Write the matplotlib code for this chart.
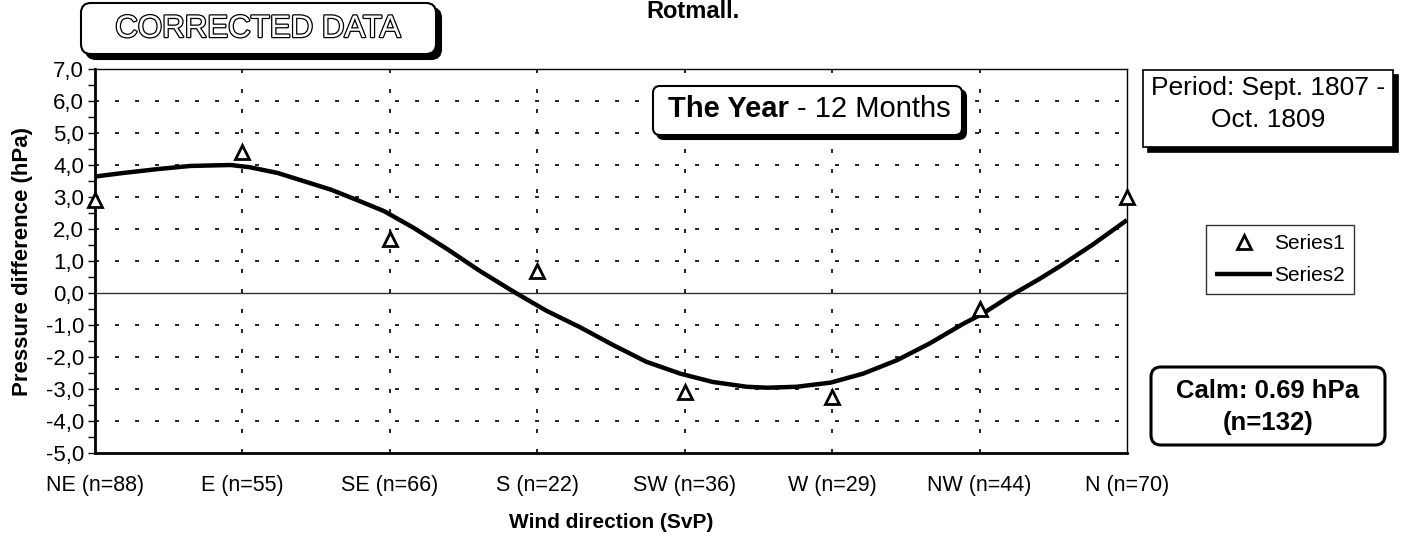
import numpy as np
import matplotlib
matplotlib.use("Agg")
import matplotlib.pyplot as plt
from matplotlib.patches import FancyBboxPatch
import matplotlib.patheffects as pe

plt.rcParams['font.family'] = ['Liberation Sans', 'DejaVu Sans']

# data
directions = ['NE (n=88)', 'E (n=55)', 'SE (n=66)', 'S (n=22)',
              'SW (n=36)', 'W (n=29)', 'NW (n=44)', 'N (n=70)']
series1 = [2.9, 4.4, 1.7, 0.7, -3.1, -3.25, -0.5, 3.0]

# fitted curve (Series2)
curve_x = [0.0, 0.19, 0.42, 0.645, 0.92, 1.05, 1.24, 1.42, 1.60, 1.78, 1.96,
           2.16, 2.39, 2.61, 2.84, 3.06, 3.29, 3.52, 3.74, 3.97, 4.19, 4.42,
           4.56, 4.76, 4.99, 5.21, 5.44, 5.66, 5.89, 6.02, 6.23, 6.41, 6.55,
           6.77, 7.0]
curve_y = [3.64, 3.75, 3.87, 3.97, 4.0, 3.93, 3.75, 3.49, 3.23, 2.90, 2.56,
           2.04, 1.37, 0.69, 0.04, -0.55, -1.07, -1.64, -2.15, -2.52, -2.78,
           -2.93, -2.96, -2.93, -2.80, -2.52, -2.10, -1.58, -0.96, -0.65,
           -0.03, 0.45, 0.85, 1.52, 2.28]

yticks = np.arange(-5, 8, 1)

W, H = 1406, 538
fig = plt.figure(figsize=(W / 100, H / 100), dpi=100)
ax = fig.add_axes([95 / W, 1 - 453 / H, (1127 - 95) / W, (453 - 69) / H])

x = np.arange(len(directions))
line, = ax.plot(curve_x, curve_y, color='black', lw=3.2, label='Series2',
                zorder=3, solid_capstyle='butt')
pts, = ax.plot(x, series1, linestyle='none', marker='^', ms=10, mfc='white',
               mec='black', mew=2, label='Series1', zorder=4, clip_on=False)

ax.set_xlim(0, 7)
ax.set_ylim(-5, 7)
ax.set_xticks(x)
ax.set_xticklabels(directions, fontsize=15.5)
ax.set_yticks(yticks)
ax.set_yticklabels([('%.1f' % v).replace('.', ',') for v in yticks], fontsize=16)
ax.set_yticks(np.arange(-4.5, 7, 1), minor=True)
ax.tick_params(axis='y', which='both', direction='out', length=5, width=1, pad=3)
ax.tick_params(axis='x', length=0, pad=16)

for v in yticks[1:-1]:
    if v == 0:
        ax.axhline(0, color='#333333', lw=1, zorder=1)
    else:
        ax.axhline(v, color='black', lw=1.2, linestyle=(0, (2.4, 9.6)), zorder=1)
for xi in x[1:-1]:
    ax.axvline(xi, color='black', lw=1.2, linestyle=(0, (2.4, 9.6)), zorder=1)

for s in ['left', 'bottom']:
    ax.spines[s].set_linewidth(2)
for s in ['top', 'right']:
    ax.spines[s].set_linewidth(1)

ax.set_ylabel('Pressure difference (hPa)', fontsize=16, fontweight='bold', labelpad=9)
ax.set_xlabel('Wind direction (SvP)', fontsize=15, fontweight='bold', labelpad=12)

leg = fig.legend([pts, line], ['Series1', 'Series2'], loc='upper left',
                 bbox_to_anchor=(1206 / W, 1 - 225 / H),
                 fontsize=15, frameon=True, fancybox=False, handlelength=2.7,
                 borderpad=0.45, labelspacing=0.6, handletextpad=0.1,
                 borderaxespad=0)
leg.get_frame().set_edgecolor('black')
leg.get_frame().set_linewidth(1)

# overlay in pixel coordinates for the text boxes
ov = fig.add_axes([0, 0, 1, 1], zorder=5)
ov.set_xlim(0, W)
ov.set_ylim(H, 0)
ov.axis('off')
ov.patch.set_visible(False)


def box(x0, y0, x1, y1, rounded=0, shadow=0, lw=1.5):
    style = 'round,pad=0,rounding_size=%d' % rounded if rounded else 'square,pad=0'
    if shadow:
        ov.add_patch(FancyBboxPatch((x0 + shadow, y0 + shadow), x1 - x0, y1 - y0,
                                    boxstyle=style, fc='black', ec='black', lw=lw))
    ov.add_patch(FancyBboxPatch((x0, y0), x1 - x0, y1 - y0, boxstyle=style,
                                fc='white', ec='black', lw=lw))


ov.text(693, 0, 'Rotmall.', ha='center', va='top', fontsize=17, fontweight='bold')

box(81, 3, 436, 54, rounded=10, shadow=5)
ov.text(258, 29, 'CORRECTED DATA', ha='center', va='center', fontsize=22.5,
        color='white',
        path_effects=[pe.withStroke(linewidth=1.8, foreground='black')])

box(653, 86, 962, 135, rounded=7, shadow=4)
ov.text(789, 109, 'The Year', ha='right', va='center', fontsize=21, fontweight='bold')
ov.text(797, 109, '- 12 Months', ha='left', va='center', fontsize=21)

box(1143, 70, 1393, 147, shadow=5, lw=1.2)
ov.text(1268, 104, 'Period: Sept. 1807 -\nOct. 1809', ha='center', va='center',
        fontsize=19, linespacing=1.4)

box(1151, 367, 1385, 445, rounded=10, lw=2.2)
ov.text(1268, 407, 'Calm: 0.69 hPa\n(n=132)', ha='center', va='center',
        fontsize=18.5, fontweight='bold', linespacing=1.45)

fig.savefig('out.png', dpi=100)
